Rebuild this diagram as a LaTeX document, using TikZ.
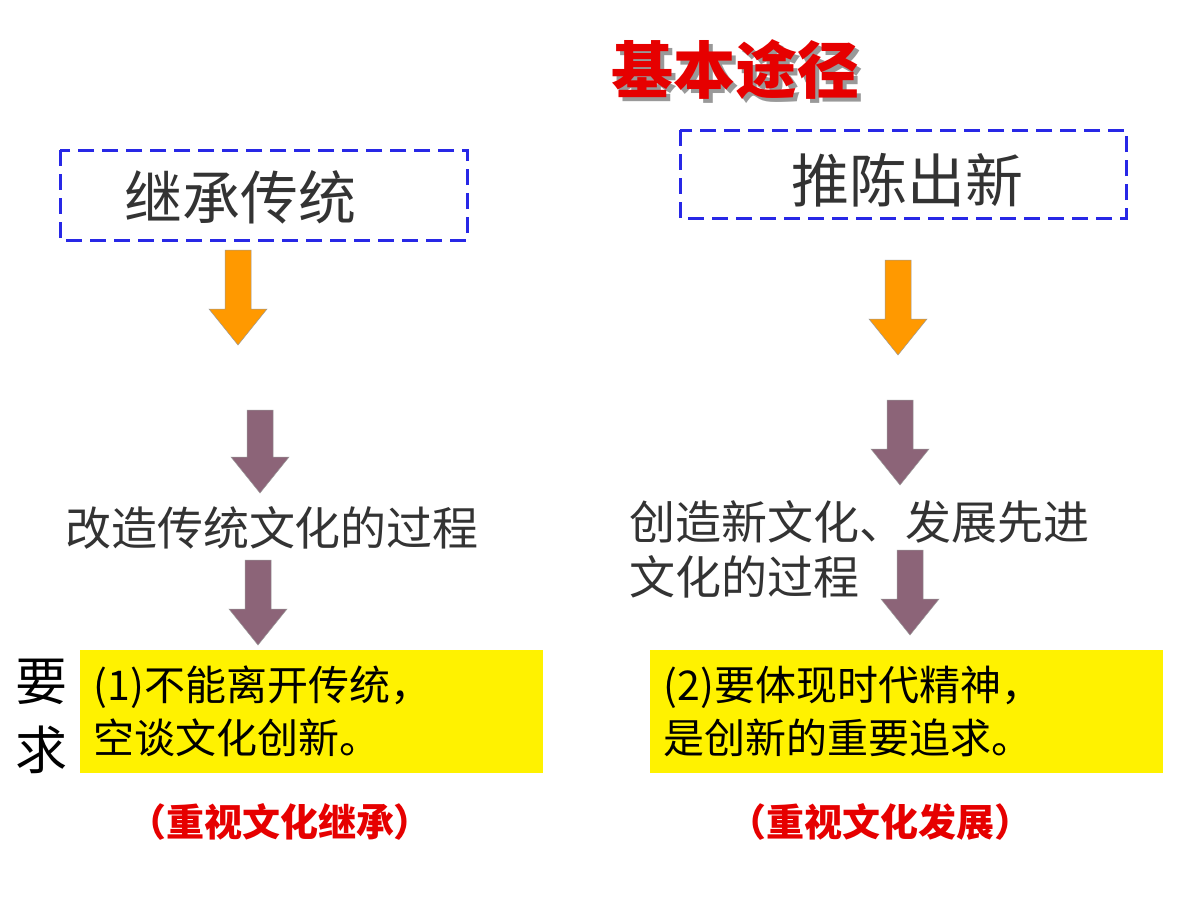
\documentclass[tikz,border=0pt]{standalone}
\usepackage{fontspec}
\newfontfamily\cjk{Noto Sans CJK SC}
\usetikzlibrary{positioning}
\definecolor{boxblue}{RGB}{40,40,230}
\definecolor{arroworange}{RGB}{255,153,0}
\definecolor{arrowmauve}{RGB}{140,100,120}
\definecolor{titlered}{RGB}{230,0,0}
\tikzset{%
	dashbox/.style={draw=boxblue, line width=3pt, dash pattern=on 16pt off 8pt},
	boxtext/.style={font=\cjk\fontsize{58}{66}\selectfont, text=black!80},
	bodytext/.style={font=\cjk\fontsize{46}{55}\selectfont, text=black!80, align=left},
	yellowbox/.style={fill=yellow, minimum width=463pt, minimum height=123pt, anchor=north west},
	reqtext/.style={font=\cjk\fontsize{41}{53}\selectfont, align=left, anchor=west},
	redtext/.style={font=\cjk\bfseries\fontsize{38}{42}\selectfont, text=titlered}
}
% block arrow: x, top y, bottom y, colour
\newcommand{\blockarrow}[4]{%
	\fill[#4, draw=black!40, line width=0.5pt] (#1-13,#2) -- (#1+13,#2) -- (#1+13,#3-36)
		-- (#1+29,#3-36) -- (#1,#3) -- (#1-29,#3-36) -- (#1-13,#3-36) -- cycle;}
\begin{document}
\begin{tikzpicture}[x=1pt, y=-1pt]
	\fill[white] (0,0) rectangle (1200,900);
	\useasboundingbox (0,0) rectangle (1200,900);

	\node[font=\cjk\bfseries\fontsize{62}{70}\selectfont, text=black!40] at (739,74) {基本途径};
	\node[font=\cjk\bfseries\fontsize{62}{70}\selectfont, text=titlered] (title) at (735,70) {基本途径};

	\draw[dashbox] (60,150) rectangle (467,240);
	\node[boxtext] (inherit) at (240,197) {继承传统};
	\draw[dashbox] (680,130) rectangle (1126,218);
	\node[boxtext] (renew) at (907,180) {推陈出新};

	\blockarrow{238}{250}{345}{arroworange}
	\blockarrow{898}{260}{355}{arroworange}
	\blockarrow{260}{410}{493}{arrowmauve}
	\blockarrow{900}{400}{485}{arrowmauve}

	\node[bodytext] (reform) at (272,528) {改造传统文化的过程};
	\node[bodytext, anchor=north west] (create) at (626,497) {创造新文化、发展先进\\文化的过程};

	\blockarrow{258}{560}{645}{arrowmauve}
	\blockarrow{910}{550}{635}{arrowmauve}

	\node[font=\cjk\fontsize{52}{60}\selectfont] (yao) at (42,682) {要};
	\node[font=\cjk\fontsize{52}{60}\selectfont] (qiu) at (42,750) {求};

	\node[yellowbox] (req1) at (80,650) {};
	\node[reqtext] at (90,711) {(1)不能离开传统，\\空谈文化创新。};
	\node[yellowbox, minimum width=513pt] (req2) at (650,650) {};
	\node[reqtext] at (660,711) {(2)要体现时代精神，\\是创新的重要追求。};

	\node[redtext] (note1) at (280,822) {（重视文化继承）};
	\node[redtext] (note2) at (880,822) {（重视文化发展）};
\end{tikzpicture}
\end{document}
